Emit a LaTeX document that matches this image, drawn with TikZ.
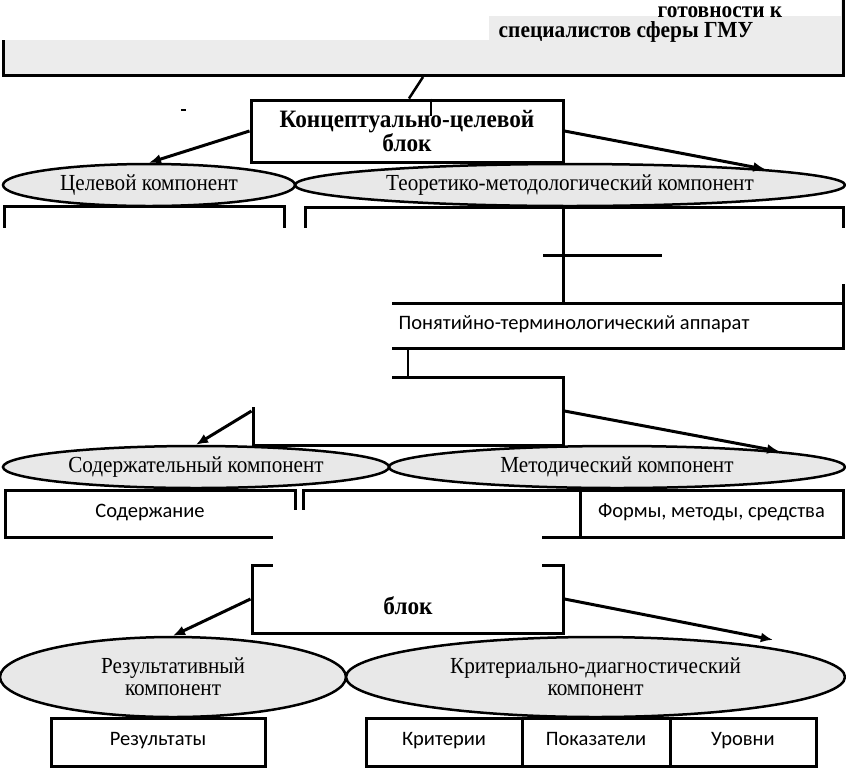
\documentclass[tikz,border=0pt]{standalone}
\usepackage{fontspec}
\setmainfont{Liberation Serif}
\newfontfamily\serc[FakeStretch=0.92]{Liberation Serif}
\newfontfamily\serb[FakeStretch=0.93]{Liberation Serif}
\newfontfamily\sansc{Carlito}
\usetikzlibrary{shapes.geometric,arrows.meta}
\definecolor{ovalgray}{RGB}{232,232,232}
\definecolor{topgray}{RGB}{236,236,236}
\begin{document}
\begin{tikzpicture}[x=1pt,y=-1pt,
  box/.style={draw, line width=3pt, rectangle, inner sep=0pt, text height=10pt, text depth=3pt, font=\sansc\fontsize{20.5}{24}\selectfont},
  oval/.style={draw, line width=2.5pt, ellipse, fill=ovalgray, inner sep=0pt, font=\serc\fontsize{23}{22}\selectfont, align=center},
  blk/.style={draw, line width=3pt, fill=white, inner sep=0pt, font=\serb\bfseries\fontsize{25}{24}\selectfont, align=center},
  btext/.style={inner sep=0pt, font=\serb\bfseries\fontsize{25}{24}\selectfont},
  ttext/.style={inner sep=0pt, font=\serb\bfseries\fontsize{23}{24}\selectfont},
  link/.style={line width=2.5pt},
  arr/.style={line width=3pt, -{Latex[length=12pt,width=10pt]}},
  wipe/.style={fill=white, draw=none}]
\useasboundingbox (0,0) rectangle (846,772);

% top box
\node[draw, line width=3pt, fill=topgray, minimum width=840pt, minimum height=85pt, inner sep=0pt] (T) at (423,33) {};
\fill[wipe] (0,-12) rectangle (489,40);
\fill[wipe] (489,-12) rectangle (841,16);
\node[ttext] (t1) at (720,12) {готовности к};
\node[ttext] (t2) at (626,32) {специалистов сферы ГМУ};
\draw[line width=2pt] (181,110) -- (186,110);

% block 1
\node[blk, minimum width=312pt, minimum height=62pt] (B1) at (407,131) {Концептуально-целевой\\блок};
\draw[link] (T.south) -- ([xshift=2pt]B1.north);
\draw[link] ([xshift=24pt]B1.north) -- ++(0,17);

\node[oval, minimum width=292pt, minimum height=42pt] (E1) at (149,185) {Целевой компонент};
\node[oval, minimum width=550pt, minimum height=42pt] (E2) at (570,185) {Теоретико-методологический компонент};
\draw[arr] (B1.west) -- (E1.north);
\draw[arr] (B1.east) -- (E2.north east);

% row 1 boxes
\node[box, minimum width=280pt, minimum height=95pt] (C1) at (144,254) {};
\node[box, minimum width=538pt, minimum height=96pt] (G) at (574,255) {};
\node[box, minimum width=538pt, minimum height=45pt] (P) at (574,326) {Понятийно-терминологический аппарат};

% middle block
\node[box, minimum width=310pt, minimum height=68pt] (M) at (408,411) {};
\draw[link] (P.south -| M.north) -- (M.north);

% occlusions
\fill[wipe] (0,228) rectangle (392,407);
\fill[wipe] (392,228) rectangle (846,284);
\draw[line width=3pt] ([xshift=-11pt]G.north) -- ([xshift=-11pt]G.south);
\draw[line width=3pt] ([xshift=-31pt]G.center) -- ([xshift=88pt]G.center);

% row 2
\node[oval, minimum width=386pt, minimum height=42pt] (E3) at (196,467) {Содержательный компонент};
\node[oval, minimum width=456pt, minimum height=42pt] (E4) at (617,467) {Методический компонент};
\draw[arr] (M.west) -- (E3.north);
\draw[arr] (M.east) -- (E4.north east);

\node[box, minimum width=290pt, minimum height=47pt] (S1) at (150,513.5) {Содержание};
\node[box, minimum width=277pt, minimum height=47pt] (S2) at (441.5,513.5) {};
\node[box, minimum width=263pt, minimum height=47pt] (S3) at (711.5,513.5) {Формы, методы, средства};

% block 3
\node[blk, minimum width=311pt, minimum height=68pt] (B3) at (407.5,599) {};
\fill[wipe] (273,510) rectangle (542,596);
\node[btext] (b3t) at (408,606) {блок};

\node[oval, minimum width=346pt, minimum height=80pt] (E5) at (173,677) {Результативный\\компонент};
\node[oval, minimum width=499pt, minimum height=80pt] (E6) at (595.5,677) {Критериально-диагностический\\компонент};
\draw[arr] (B3.west) -- (E5.north);
\draw[arr] (B3.east) -- ([yshift=8pt]E6.north east);

% row 3 boxes
\node[box, minimum width=214pt, minimum height=48pt] (R1) at (158,742) {Результаты};
\node[box, minimum width=156pt, minimum height=48pt] (K1) at (444,742) {Критерии};
\node[box, minimum width=148pt, minimum height=48pt] (K2) at (596,742) {Показатели};
\node[box, minimum width=146pt, minimum height=48pt] (K3) at (743,742) {Уровни};
\end{tikzpicture}
\end{document}
